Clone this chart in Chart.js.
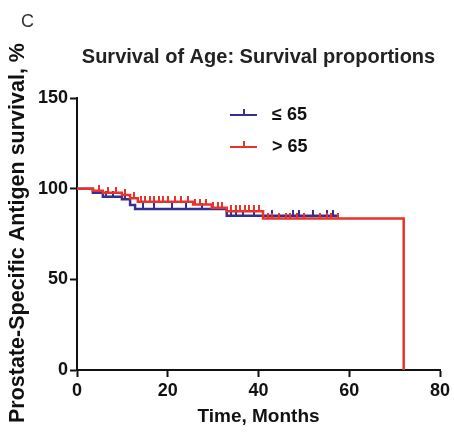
<!DOCTYPE html>
<html lang="en">
<head>
  <meta charset="UTF-8">
  <title>Survival of Age</title>
  <script src="https://cdn.jsdelivr.net/npm/chart.js"></script>
  <style>
    body { margin: 0; background: #fff; }
    #wrap { width: 454px; height: 432px; }
  </style>
</head>
<body>
  <div id="wrap"><canvas id="km"></canvas></div>

  <script>
    // Kaplan-Meier steps (months, % surviving)
    const youngTimes = [0, 3.5, 5.7, 9.9, 11.7, 12.8, 33, 57.5];
    const youngSurv  = [100, 97.8, 95.6, 94.1, 91, 88.8, 85, 85];
    const oldTimes = [0, 3.5, 5.7, 9.9, 11.7, 13.4, 25.6, 29.7, 33, 41, 72];
    const oldSurv  = [100, 98.9, 97.8, 96.5, 94.7, 92.8, 91.2, 89.5, 87.5, 83.5, 0];

    // censored follow-up times
    const youngCensored = [6.5, 8, 10.5, 14.5, 17, 21, 24, 27.5, 31, 34, 35, 36.5, 39, 43, 47.5, 49, 52, 55, 56.5];
    const oldCensored = [4.8, 6.8, 8.5, 10.5, 12.5, 14, 15, 16, 17, 18, 19, 20, 21.5, 23, 24.5, 26, 27, 28.5,
                         30, 31, 32, 34, 35, 36, 37, 38, 39, 40, 42, 43, 44.5, 46, 47, 48.5, 50, 53.5, 55, 56, 57.5];

    const xTicks = [0, 20, 40, 60, 80];
    const yTicks = [0, 50, 100, 150];

    const BLUE = '#35308f';
    const RED = '#e8332b';
    const FONT = "'Liberation Sans', Arial, sans-serif";

    function survAt(times, surv, t) {
      let s = surv[0];
      for (let i = 0; i < times.length; i++) if (times[i] <= t) s = surv[i];
      return s;
    }

    // little upward tick used for censored cases
    function tickMark(color) {
      const c = document.createElement('canvas');
      c.width = 2; c.height = 12;
      const g = c.getContext('2d');
      g.fillStyle = color;
      g.fillRect(0, 0, 2, 6);
      return c;
    }

    const curve = (times, surv) => times.map((t, i) => ({ x: t, y: surv[i] }));
    const marks = (cens, times, surv) => cens.map(t => ({ x: t, y: survAt(times, surv, t) }));

    const extras = {
      id: 'extras',
      beforeDraw(chart) {
        const c = chart.ctx;
        c.save();
        c.fillStyle = '#fff';
        c.fillRect(0, 0, chart.width, chart.height);
        c.restore();
      },
      afterDraw(chart) {
        const c = chart.ctx;
        c.save();
        c.fillStyle = '#333';
        c.font = '18px ' + FONT;
        c.textBaseline = 'middle';
        c.fillText('C', 21, 22);

        // y axis title
        c.save();
        c.translate(18, 233);
        c.rotate(-Math.PI / 2);
        c.textAlign = 'center';
        c.fillStyle = '#111';
        c.font = 'bold 21.5px ' + FONT;
        c.fillText('Prostate-Specific Antigen survival, %', 0, 0);
        c.restore();

        // legend
        const rows = [{ label: '\u2264 65', color: BLUE, y: 115 }, { label: '> 65', color: RED, y: 147 }];
        rows.forEach(r => {
          c.strokeStyle = r.color;
          c.lineWidth = 2;
          c.beginPath();
          c.moveTo(230, r.y); c.lineTo(257, r.y);
          c.moveTo(244, r.y); c.lineTo(244, r.y - 6);
          c.stroke();
          c.fillStyle = '#111';
          c.font = 'bold 18px ' + FONT;
          c.fillText(r.label, 272, r.y);
        });
        c.restore();
      }
    };

    new Chart(document.getElementById('km'), {
      type: 'line',
      data: {
        datasets: [
          { label: '> 65', data: curve(oldTimes, oldSurv), borderColor: RED, borderWidth: 2.5,
            stepped: true, pointRadius: 0, order: 1 },
          { label: '> 65 censored', data: marks(oldCensored, oldTimes, oldSurv), showLine: false,
            pointStyle: tickMark(RED), pointRadius: 3, order: 2 },
          { label: '\u2264 65', data: curve(youngTimes, youngSurv), borderColor: BLUE, borderWidth: 2.5,
            stepped: true, pointRadius: 0, order: 3 },
          { label: '\u2264 65 censored', data: marks(youngCensored, youngTimes, youngSurv), showLine: false,
            pointStyle: tickMark(BLUE), pointRadius: 3, order: 4 }
        ]
      },
      options: {
        responsive: true,
        maintainAspectRatio: false,
        animation: false,
        events: [],
        layout: { padding: { right: 14 } },
        plugins: {
          legend: { display: false },
          tooltip: { enabled: false },
          title: {
            display: true,
            text: 'Survival of Age: Survival proportions',
            fullSize: false,
            color: '#222',
            font: { family: FONT, size: 20, weight: 'bold' },
            padding: { top: 45, bottom: 29 }
          }
        },
        scales: {
          x: {
            type: 'linear', min: 0, max: 80,
            afterBuildTicks: s => { s.ticks = xTicks.map(v => ({ value: v })); },
            afterFit: s => { s.height = 62; },
            ticks: { color: '#111', font: { family: FONT, size: 18, weight: 'bold' }, padding: 3 },
            grid: { drawOnChartArea: false, tickLength: 7, tickColor: '#111', tickWidth: 2 },
            border: { color: '#111', width: 2 },
            title: { display: true, text: 'Time, Months', color: '#111',
                     font: { family: FONT, size: 19, weight: 'bold' }, padding: { top: 3 } }
          },
          y: {
            min: 0, max: 150,
            afterBuildTicks: s => { s.ticks = yTicks.map(v => ({ value: v })); },
            afterFit: s => { s.width = 77; },
            ticks: { color: '#111', font: { family: FONT, size: 18, weight: 'bold' }, padding: 2 },
            grid: { drawOnChartArea: false, tickLength: 7, tickColor: '#111', tickWidth: 2 },
            border: { color: '#111', width: 2 }
          }
        }
      },
      plugins: [extras]
    });
  </script>
</body>
</html>
